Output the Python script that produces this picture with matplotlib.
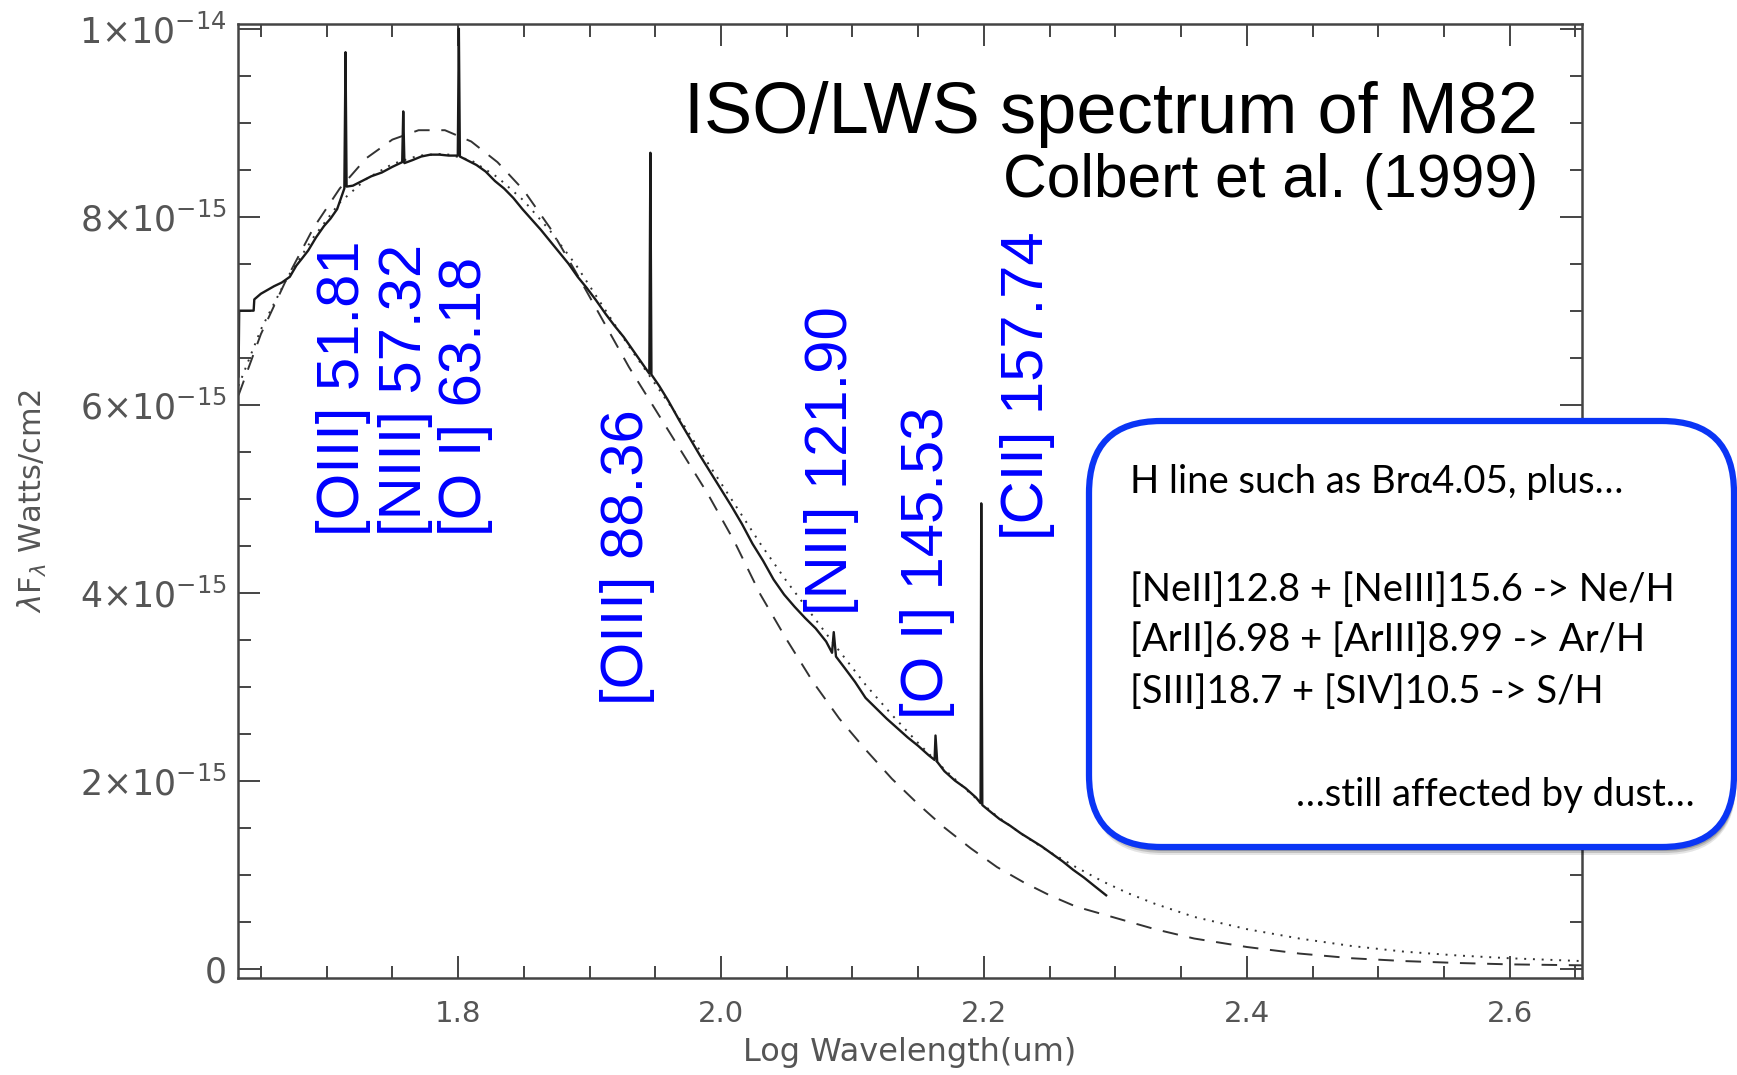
import numpy as np
import matplotlib; matplotlib.use("Agg")
import matplotlib.pyplot as plt
from matplotlib.patches import FancyBboxPatch

# ---- data (flux in units of 1e-15 W/cm2, x = log10 wavelength in um) ----
obs_x = [1.6330, 1.6335, 1.6445, 1.6450, 1.650, 1.655, 1.660, 1.666, 1.672, 1.677, 1.681,
         1.686, 1.692, 1.698, 1.703, 1.708, 1.7135, 1.7144, 1.7152, 1.720, 1.727, 1.734,
         1.742, 1.750, 1.7575, 1.7583, 1.7592, 1.765, 1.772, 1.779, 1.786, 1.793, 1.7998,
         1.8006, 1.8014, 1.807, 1.814, 1.821, 1.828, 1.835, 1.842, 1.849, 1.856, 1.863,
         1.870, 1.877, 1.884, 1.891, 1.898, 1.905, 1.912, 1.919, 1.926, 1.933, 1.940,
         1.9455, 1.9463, 1.9471, 1.953, 1.960, 1.968, 1.976, 1.984, 1.992, 2.000, 2.008,
         2.016, 2.024, 2.032, 2.040, 2.048, 2.056, 2.064, 2.072, 2.080, 2.0845, 2.0858,
         2.0875, 2.094, 2.102, 2.110, 2.118, 2.126, 2.134, 2.142, 2.150, 2.158, 2.1625,
         2.1632, 2.1645, 2.170, 2.178, 2.186, 2.194, 2.1975, 2.1980, 2.1988, 2.204, 2.212,
         2.220, 2.228, 2.236, 2.244, 2.252, 2.260, 2.268, 2.276, 2.284, 2.293]
obs_y = [6.30, 7.00, 7.00, 7.12, 7.18, 7.22, 7.26, 7.30, 7.36, 7.48, 7.55,
         7.64, 7.78, 7.90, 7.98, 8.08, 8.30, 9.75, 8.32, 8.33, 8.38, 8.43,
         8.47, 8.53, 8.58, 9.12, 8.57, 8.60, 8.64, 8.66, 8.66, 8.65, 8.65,
         10.0, 8.64, 8.60, 8.55, 8.48, 8.38, 8.30, 8.20, 8.08, 7.97, 7.86,
         7.74, 7.62, 7.50, 7.36, 7.24, 7.11, 6.97, 6.84, 6.72, 6.58, 6.44,
         6.33, 8.68, 6.32, 6.20, 6.04, 5.84, 5.65, 5.46, 5.28, 5.10, 4.92,
         4.73, 4.52, 4.34, 4.14, 3.98, 3.85, 3.73, 3.62, 3.48, 3.36, 3.58,
         3.32, 3.20, 3.05, 2.88, 2.77, 2.66, 2.56, 2.46, 2.37, 2.27, 2.22,
         2.48, 2.20, 2.10, 2.00, 1.92, 1.82, 1.76, 4.95, 1.74, 1.68, 1.59,
         1.52, 1.44, 1.37, 1.30, 1.22, 1.14, 1.05, 0.97, 0.88, 0.78]

dash_x = [1.633, 1.650, 1.670, 1.690, 1.710, 1.730, 1.750, 1.770, 1.790, 1.810, 1.830,
          1.850, 1.870, 1.890, 1.910, 1.930, 1.950, 1.970, 1.990, 2.010, 2.030, 2.050,
          2.070, 2.090, 2.110, 2.130, 2.150, 2.170, 2.190, 2.210, 2.230, 2.250, 2.270,
          2.300, 2.330, 2.360, 2.400, 2.440, 2.480, 2.520, 2.560, 2.600, 2.655]
dash_y = [6.10, 6.75, 7.35, 7.88, 8.30, 8.62, 8.82, 8.92, 8.92, 8.80, 8.58,
          8.28, 7.88, 7.40, 6.90, 6.40, 5.95, 5.50, 5.05, 4.55, 3.98, 3.50,
          3.05, 2.66, 2.33, 2.02, 1.75, 1.50, 1.28, 1.08, 0.92, 0.78, 0.66,
          0.54, 0.42, 0.32, 0.23, 0.16, 0.11, 0.08, 0.06, 0.045, 0.035]

dot_x = [1.633, 1.650, 1.670, 1.690, 1.710, 1.730, 1.750, 1.770, 1.790, 1.810, 1.830,
         1.850, 1.870, 1.890, 1.910, 1.930, 1.950, 1.970, 1.990, 2.010, 2.030, 2.050,
         2.070, 2.090, 2.110, 2.130, 2.150, 2.170, 2.190, 2.210, 2.230, 2.250, 2.270,
         2.290, 2.310, 2.330, 2.360, 2.400, 2.440, 2.480, 2.520, 2.560, 2.600, 2.655]
dot_y = [6.20, 6.80, 7.35, 7.78, 8.15, 8.40, 8.56, 8.65, 8.67, 8.60, 8.42,
         8.17, 7.85, 7.48, 7.05, 6.62, 6.22, 5.82, 5.38, 4.95, 4.52, 4.12,
         3.75, 3.38, 3.02, 2.70, 2.40, 2.12, 1.86, 1.62, 1.42, 1.24, 1.08,
         0.93, 0.80, 0.69, 0.55, 0.42, 0.32, 0.24, 0.18, 0.14, 0.11, 0.08]

line_labels = ["[OIII] 51.81", "[NIII] 57.32", "[O I] 63.18", "[OIII] 88.36",
               "[NII] 121.90", "[O I] 145.53", "[CII] 157.74"]
label_x = [1.713, 1.760, 1.806, 1.929, 2.084, 2.157, 2.233]
label_y = [4.60, 4.60, 4.60, 2.80, 3.76, 2.66, 4.56]

yticks = [0, 2, 4, 6, 8, 10]
ytick_labels = ["0", r"$2{\times}10^{-15}$", r"$4{\times}10^{-15}$", r"$6{\times}10^{-15}$",
                r"$8{\times}10^{-15}$", r"$1{\times}10^{-14}$"]
xticks = [1.8, 2.0, 2.2, 2.4, 2.6]

box_lines = ["H line such as Br\u03b14.05, plus\u2026",
             "[NeII]12.8 + [NeIII]15.6 -> Ne/H",
             "[ArII]6.98 + [ArIII]8.99 -> Ar/H",
             "[SIII]18.7 + [SIV]10.5 -> S/H"]
box_tail = "\u2026still affected by dust\u2026"

W, H = 1737, 1075
fig = plt.figure(figsize=(W/100, H/100), dpi=100, facecolor="white")
ax = fig.add_axes([238/W, 1-978/H, 1344/W, 954/H])
E = 1e-15
gray = "#555555"
ax.plot(np.array(dot_x), np.array(dot_y)*E, color="#333333", lw=1.4, ls=(0, (1, 3.5)))
ax.plot(np.array(dash_x), np.array(dash_y)*E, color="#333333", lw=1.4, ls=(0, (8, 6)))
ax.plot(np.array(obs_x), np.array(obs_y)*E, color="#1a1a1a", lw=1.7)
ax.set_xlim(1.6326, 2.655); ax.set_ylim(-0.1*E, 10.05*E)
ax.set_xticks(xticks); ax.set_xticklabels([f"{v:.1f}" for v in xticks])
ax.set_xticks(np.arange(1.65, 2.651, 0.05), minor=True)
ax.set_yticks(np.array(yticks)*E); ax.set_yticklabels(ytick_labels)
ax.set_yticks(np.arange(0, 10.01, 0.5)*E, minor=True)
ax.tick_params(which="both", direction="in", top=True, right=True, colors="#444444",
               labelcolor=gray, width=1.4)
ax.tick_params(axis="x", labelsize=21, pad=16)
ax.tick_params(axis="y", labelsize=25, pad=8)
ax.tick_params(which="major", length=16)
ax.tick_params(which="minor", length=9)
for s in ax.spines.values():
    s.set_color("#444444"); s.set_linewidth(1.8)
ax.set_xlabel("Log Wavelength(um)", fontsize=23, color=gray, labelpad=6)
ax.set_ylabel(r"$\lambda$F$_\lambda$ Watts/cm2", fontsize=22, color=gray, labelpad=22)

for t, x, y in zip(line_labels, label_x, label_y):
    ax.text(x, y*E, t, rotation=90, ha="center", va="bottom", color="#0000ff",
            fontsize=43, family="Liberation Sans")

# overlay in pixel units for title and callout box
ov = fig.add_axes([0, 0, 1, 1], zorder=5)
ov.set_xlim(0, W); ov.set_ylim(H, 0); ov.axis("off"); ov.patch.set_alpha(0)
ov.text(1538, 114, "ISO/LWS spectrum of M82", ha="right", va="center", fontsize=52,
        family="Liberation Sans", color="black")
ov.text(1538, 181, "Colbert et al. (1999)", ha="right", va="center", fontsize=43.6,
        family="Liberation Sans", color="black")
for k, a in [(8, 0.10), (6, 0.15), (4, 0.2)]:
    ov.add_patch(FancyBboxPatch((1089+2, 421+k), 645, 426, boxstyle="round,pad=0,rounding_size=72",
                                fc="#000000", ec="none", alpha=a))
ov.add_patch(FancyBboxPatch((1089, 421), 645, 426, boxstyle="round,pad=0,rounding_size=72",
                            fc="white", ec="#0a35f5", lw=4.5))
fam = ["Lato", "DejaVu Sans"]
for t, y in zip(box_lines, [482, 590, 640, 692]):
    ov.text(1130, y, t, ha="left", va="center", fontsize=27.5, family=fam, color="black")
ov.text(1695, 795, box_tail, ha="right", va="center", fontsize=27.5, family=fam, color="black")

fig.savefig("out.png", dpi=100, facecolor="white")
